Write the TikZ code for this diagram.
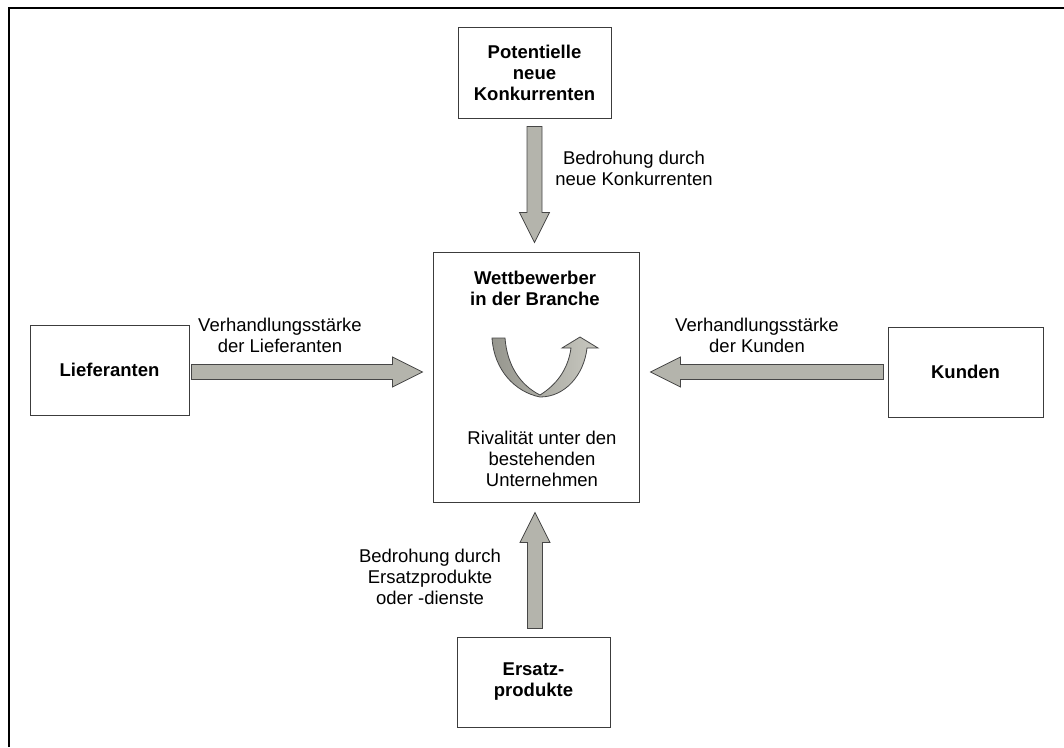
\documentclass[tikz,border=0pt]{standalone}
\usepackage{fontspec}
\setmainfont{Liberation Sans}
\usetikzlibrary{calc}
\definecolor{arrowgray}{RGB}{180,180,172}
\definecolor{arrowdark}{RGB}{150,150,142}
\definecolor{arrowlight}{RGB}{200,200,192}
\definecolor{boxline}{RGB}{60,60,60}
\definecolor{arrowline}{RGB}{70,70,70}
\newcommand\blockarrow[2]{%
\filldraw[barrow] let \p1=(#1), \p2=(#2), \n1={veclen(\x2-\x1,\y2-\y1)}, \n2={(\x2-\x1)/\n1}, \n3={(\y2-\y1)/\n1} in
({\x1-7.5*\n3},{\y1+7.5*\n2}) --
({\x2-30*\n2-7.5*\n3},{\y2-30*\n3+7.5*\n2}) --
({\x2-30*\n2-15*\n3},{\y2-30*\n3+15*\n2}) --
(\p2) --
({\x2-30*\n2+15*\n3},{\y2-30*\n3-15*\n2}) --
({\x2-30*\n2+7.5*\n3},{\y2-30*\n3-7.5*\n2}) --
({\x1+7.5*\n3},{\y1-7.5*\n2}) -- cycle;}
\begin{document}
\begin{tikzpicture}[x=1pt,y=-1pt,
  box/.style={draw=boxline, line width=0.9pt, fill=white, inner sep=0pt, align=center,
    font=\bfseries\fontsize{18.5}{21}\selectfont},
  lbl/.style={inner sep=0pt, align=center, font=\fontsize{18.5}{21}\selectfont},
  blbl/.style={lbl, font=\bfseries\fontsize{18.5}{21}\selectfont},
  barrow/.style={fill=arrowgray, draw=arrowline, line width=0.8pt, line join=miter}]
\useasboundingbox (0,0) rectangle (1064,747);
% outer frame
\draw[line width=2.5pt] (9,747) -- (9,8) -- (1064,8);
% boxes
\node[box, minimum width=153pt, minimum height=91pt] (pnk) at (534.5,72.5) {Potentielle\\neue\\Konkurrenten};
\node[box, minimum width=159pt, minimum height=90pt] (lief) at (109.5,370) {Lieferanten};
\node[box, minimum width=206pt, minimum height=250pt] (wb) at (536,377) {};
\node[box, minimum width=155pt, minimum height=90pt] (kun) at (965.5,372) {Kunden};
\node[box, minimum width=153pt, minimum height=90pt] (ers) at (533.5,682) {Ersatz-\\produkte};
% texts in centre box
\node[blbl] (wbt) at (535,288) {Wettbewerber\\in der Branche};
\node[lbl] (riv) at (542,459) {Rivalität unter den\\bestehenden\\Unternehmen};
% labels
\node[lbl] (l1) at (634,168) {Bedrohung durch\\neue Konkurrenten};
\node[lbl] (l2) at (280,335) {Verhandlungsstärke\\der Lieferanten};
\node[lbl] (l3) at (757,335) {Verhandlungsstärke\\der Kunden};
\node[lbl] (l4) at (430,577) {Bedrohung durch\\Ersatzprodukte\\oder -dienste};
% arrow end points
\coordinate (a1s) at ($(pnk.south)+(0,8)$);
\coordinate (a1e) at ($(wb.north)+(-1.5,-9)$);
\coordinate (a2s) at ($(lief.east)+(2,2)$);
\coordinate (a2e) at ($(wb.west)+(-10,-5)$);
\coordinate (a3s) at ($(kun.west)+(-4,0)$);
\coordinate (a3e) at ($(wb.east)+(11,-5)$);
\coordinate (a4s) at ($(ers.north)+(1.5,-8)$);
\coordinate (a4e) at ($(wb.south)+(-1,10)$);
\blockarrow{a1s}{a1e}
\blockarrow{a2s}{a2e}
\blockarrow{a3s}{a3e}
\blockarrow{a4s}{a4e}
% curved rivalry arrow
\shade[left color=arrowdark, right color=arrowlight, draw=arrowline, line width=0.8pt, line join=miter]
  (492,338) -- (505,338) .. controls (507,365) and (520,385) .. (540,395)
  .. controls (556,385) and (568,370) .. (571,348)
  -- (562,348) -- (580,337) -- (598,348) -- (587,348)
  .. controls (584,375) and (565,397) .. (540,397)
  .. controls (515,392) and (494,370) .. (492,338) -- cycle;
\end{tikzpicture}
\end{document}
